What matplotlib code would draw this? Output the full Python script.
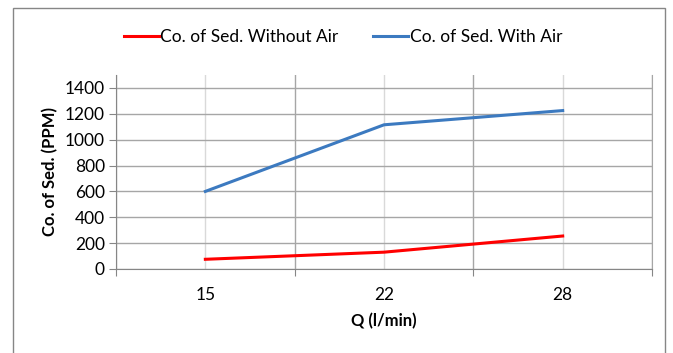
import matplotlib
matplotlib.use("Agg")
import matplotlib.pyplot as plt
from matplotlib.patches import Rectangle

# data
flow_rates = ["15", "22", "28"]
sed_without_air = [75, 130, 255]
sed_with_air = [600, 1115, 1225]

plt.rcParams["font.family"] = ["Lato", "DejaVu Sans"]

fig = plt.figure(figsize=(6.73, 3.53), dpi=100)
ax = fig.add_axes([0.1724, 0.238, 0.7964, 0.5495])

# categories sit at odd positions, grid cells between them
xpos = [1, 3, 5]
ax.plot(xpos, sed_without_air, color="#ff0000", linewidth=2.2,
        label="Co. of Sed. Without Air")
ax.plot(xpos, sed_with_air, color="#3c7ac0", linewidth=2.2,
        label="Co. of Sed. With Air")

ax.set_xlim(0, 6)
ax.set_ylim(0, 1500)
ax.set_yticks(range(0, 1401, 200))
ax.set_xticks([0, 2, 4, 6])
ax.set_xticklabels([])
ax.set_xticks(xpos, minor=True)
ax.set_xticklabels(flow_rates, minor=True)
ax.tick_params(axis="x", which="minor", length=0, pad=13, labelsize=12.5)
ax.tick_params(axis="x", which="major", length=5, color="#868686")
ax.tick_params(axis="y", length=5, color="#868686", labelsize=12.5, pad=3)

ax.grid(True, which="major", color="#a6a6a6", linewidth=1)
ax.grid(True, which="minor", axis="x", color="#d9d9d9", linewidth=1)
ax.set_axisbelow(True)

for side in ["left", "bottom", "right"]:
    ax.spines[side].set_color("#868686")
ax.spines["top"].set_visible(False)
ax.spines["right"].set_color("#a6a6a6")

ax.set_ylabel("Co. of Sed. (PPM)", fontsize=12, fontweight="bold", labelpad=5)
ax.set_xlabel("Q (l/min)", fontsize=12, fontweight="bold", labelpad=7)

fig.legend(loc="center", bbox_to_anchor=(0.51, 0.895), ncol=2, frameon=False,
           fontsize=12.5, handlelength=2.0, handletextpad=0.1, columnspacing=2.0)

# chart border
fig.patches.append(Rectangle((0.0193, -0.05), 0.9687, 1.027, transform=fig.transFigure,
                             fill=False, edgecolor="#868686", linewidth=1))

fig.savefig("out.png", dpi=100)
